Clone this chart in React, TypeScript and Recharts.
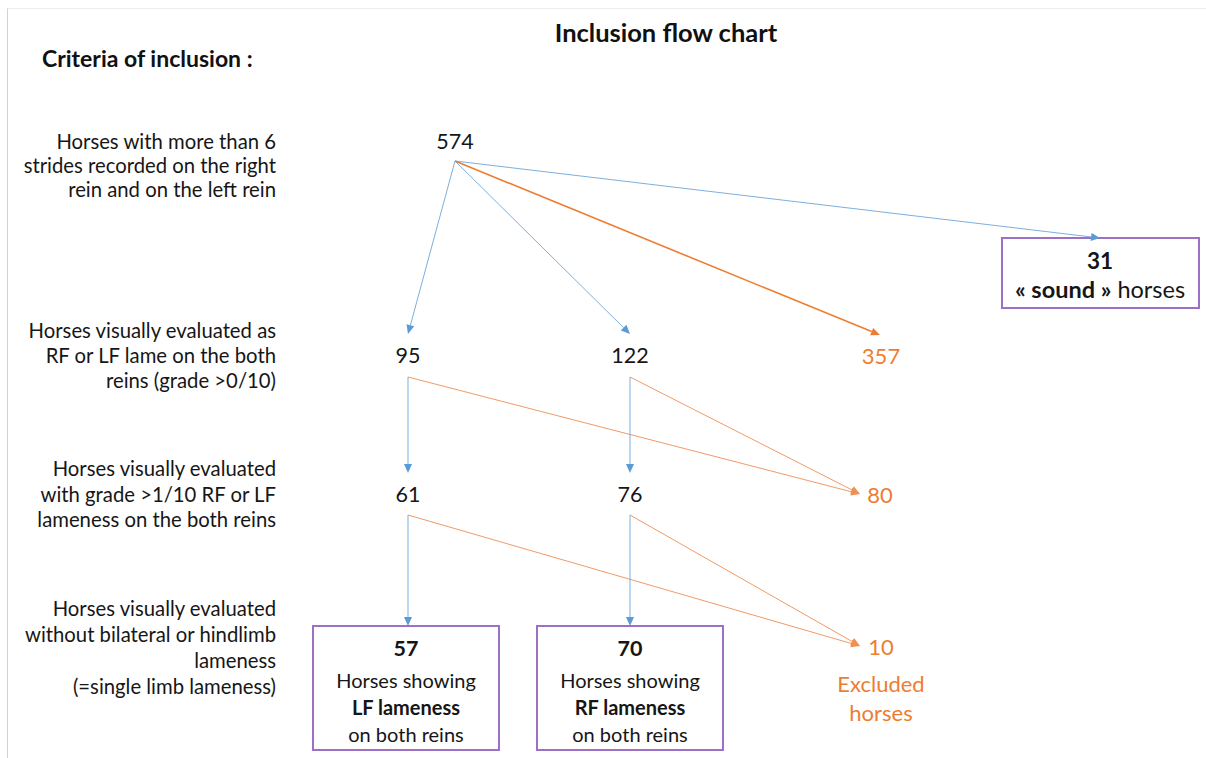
import React from 'react';
import {
  ScatterChart,
  Scatter,
  XAxis,
  YAxis,
  ReferenceLine,
  ReferenceArea,
} from 'recharts';

const W = 1206;
const H = 758;

const FONT = 'Lato, "Noto Sans", sans-serif';
const INK = '#161616';
const BLUE = '#5b9bd5';
const ORANGE = '#ed7d31';
const ORANGE_THIN = '#f08f54';
const PURPLE = '#9d6fc6';

// ---- data ----
const chartTitle = 'Inclusion flow chart';
const criteriaHeading = 'Criteria of inclusion :';

const criteria: string[][] = [
  ['Horses with more than 6', 'strides recorded on the right', 'rein and on the left rein'],
  ['Horses visually evaluated as', 'RF or LF lame on the both', 'reins (grade >0/10)'],
  ['Horses visually evaluated', 'with grade >1/10 RF or LF', 'lameness on the both reins'],
  ['Horses visually evaluated', 'without bilateral or hindlimb', 'lameness', '(=single limb lameness)'],
];

type Kind = 'count' | 'excluded' | 'box';
const nodeIds = ['all', 'lf0', 'rf0', 'exc0', 'sound', 'lf1', 'rf1', 'exc1', 'lf2', 'rf2', 'exc2'];
const nodeCounts = [574, 95, 122, 357, 31, 61, 76, 80, 57, 70, 10];
const nodeKinds: Kind[] = ['count', 'count', 'count', 'excluded', 'box', 'count', 'count', 'excluded', 'box', 'box', 'excluded'];

// caption lines under a count, each line is a list of [text, bold]
const nodeCaptions: Record<string, [string, boolean][][]> = {
  sound: [[['« sound »', true], [' horses', false]]],
  lf2: [[['Horses showing', false]], [['LF lameness', true]], [['on both reins', false]]],
  rf2: [[['Horses showing', false]], [['RF lameness', true]], [['on both reins', false]]],
  exc2: [[['Excluded', false]], [['horses', false]]],
};

type EdgeKind = 'kept' | 'dropMain' | 'drop';
const edges: [string, string, EdgeKind][] = [
  ['all', 'lf0', 'kept'],
  ['all', 'rf0', 'kept'],
  ['all', 'exc0', 'dropMain'],
  ['all', 'sound', 'kept'],
  ['lf0', 'lf1', 'kept'],
  ['lf0', 'exc1', 'drop'],
  ['rf0', 'rf1', 'kept'],
  ['rf0', 'exc1', 'drop'],
  ['lf1', 'lf2', 'kept'],
  ['lf1', 'exc2', 'drop'],
  ['rf1', 'rf2', 'kept'],
  ['rf1', 'exc2', 'drop'],
];

// ---- layout (plot units = pixels) ----
const nodePos: Record<string, [number, number]> = {
  all: [455, 141],
  lf0: [408, 355],
  rf0: [630, 355],
  exc0: [881, 355],
  sound: [1100, 260],
  lf1: [408, 494],
  rf1: [630, 494],
  exc1: [880, 494],
  lf2: [406, 648],
  rf2: [630, 648],
  exc2: [881, 646],
};
const outPoint: Record<string, [number, number]> = {
  all: [455, 161],
  lf0: [408, 377],
  rf0: [630, 377],
  lf1: [408, 515],
  rf1: [630, 515],
};
const inPoint: Record<string, [number, number]> = {
  lf0: [408, 334],
  rf0: [630, 334],
  exc0: [880, 335],
  sound: [1100, 238],
  lf1: [408, 473],
  rf1: [630, 473],
  exc1: [860, 494],
  lf2: [408, 626],
  rf2: [630, 626],
  exc2: [860, 646],
};
const boxRect: Record<string, [number, number, number, number]> = {
  sound: [1002, 1199, 238, 308],
  lf2: [313, 499, 626, 750],
  rf2: [537, 723, 626, 750],
};
const captionOffsets: Record<string, number[]> = {
  sound: [29],
  lf2: [32, 59, 86],
  rf2: [32, 59, 86],
  exc2: [37, 66],
};
const nodeFont: Record<string, [number, number]> = {
  // [count size, caption size]
  sound: [22.5, 23.5],
  lf2: [21.5, 20],
  rf2: [21.5, 20],
  exc2: [22, 22],
};
const criteriaRight = 276;
const criteriaTop = [141, 330, 468, 608];
const criteriaStep = [24, 25, 25.5, 26];

const edgeStyle: Record<EdgeKind, { color: string; width: number; opacity: number }> = {
  kept: { color: BLUE, width: 1, opacity: 0.8 },
  dropMain: { color: ORANGE, width: 1.6, opacity: 1 },
  drop: { color: ORANGE_THIN, width: 1, opacity: 0.9 },
};

const nodeData = nodeIds.map((id, i) => ({
  id,
  count: nodeCounts[i],
  kind: nodeKinds[i],
  x: nodePos[id][0],
  y: nodePos[id][1],
}));

const criteriaData = criteria.map((lines, i) => ({
  lines,
  step: criteriaStep[i],
  x: criteriaRight,
  y: criteriaTop[i],
}));

const headingData = [
  { text: chartTitle, x: 666, y: 32, anchor: 'middle', size: 25.5 },
  { text: criteriaHeading, x: 42, y: 58, anchor: 'start', size: 23 },
];

const arrowShape = (color: string, width: number, opacity: number) => (p: any) => {
  const { x1, y1, x2, y2 } = p;
  const dx = x2 - x1;
  const dy = y2 - y1;
  const len = Math.hypot(dx, dy) || 1;
  const ux = dx / len;
  const uy = dy / len;
  const hl = 9;
  const hw = 4;
  const bx = x2 - ux * hl;
  const by = y2 - uy * hl;
  return (
    <g>
      <line
        x1={x1}
        y1={y1}
        x2={bx}
        y2={by}
        stroke={color}
        strokeWidth={width}
        strokeOpacity={opacity}
      />
      <polygon
        points={`${x2},${y2} ${bx - uy * hw},${by + ux * hw} ${bx + uy * hw},${by - ux * hw}`}
        fill={color}
      />
    </g>
  );
};

const renderNode = (p: any) => {
  const { cx, cy, payload } = p;
  const color = payload.kind === 'excluded' ? ORANGE : INK;
  const caps = nodeCaptions[payload.id] || [];
  const offs = captionOffsets[payload.id] || [];
  const [countSize, capSize] = nodeFont[payload.id] || [21.5, 20];
  return (
    <g>
      <text
        x={cx}
        y={cy}
        textAnchor="middle"
        dominantBaseline="central"
        fontFamily={FONT}
        fontSize={payload.kind === 'excluded' ? 22 : countSize}
        fontWeight={payload.kind === 'box' ? 700 : 400}
        fill={color}
      >
        {payload.count}
      </text>
      {caps.map((line, i) => (
        <text
          key={i}
          x={cx}
          y={cy + offs[i]}
          textAnchor="middle"
          dominantBaseline="central"
          fontFamily={FONT}
          fontSize={capSize}
          fill={color}
        >
          {line.map(([t, b], j) => (
            <tspan key={j} fontWeight={b ? 700 : 400}>
              {t}
            </tspan>
          ))}
        </text>
      ))}
    </g>
  );
};

const renderCriteria = (p: any) => {
  const { cx, cy, payload } = p;
  return (
    <g>
      {payload.lines.map((t: string, i: number) => (
        <text
          key={i}
          x={cx}
          y={cy + i * payload.step}
          textAnchor="end"
          dominantBaseline="central"
          fontFamily={FONT}
          fontSize={20.3}
          fill={INK}
        >
          {t}
        </text>
      ))}
    </g>
  );
};

const renderHeading = (p: any) => {
  const { cx, cy, payload } = p;
  return (
    <text
      x={cx}
      y={cy}
      textAnchor={payload.anchor}
      dominantBaseline="central"
      fontFamily={FONT}
      fontSize={payload.size}
      fontWeight={700}
      fill="#111"
    >
      {payload.text}
    </text>
  );
};

export default function App() {
  return (
    <div style={{ position: 'absolute', left: 0, top: 0, width: W, height: H, background: '#fff' }}>
      <div
        style={{
          position: 'absolute',
          left: 7,
          top: 8,
          right: 0,
          bottom: 0,
          borderLeft: '1px solid #d2d2d2',
          borderTop: '1px solid #ededed',
          pointerEvents: 'none',
        }}
      />
      <ScatterChart width={W} height={H} margin={{ top: 0, right: 0, bottom: 0, left: 0 }}>
        <XAxis type="number" dataKey="x" domain={[0, W]} hide />
        <YAxis type="number" dataKey="y" domain={[0, H]} reversed hide />
        {Object.keys(boxRect).map((id) => (
          <ReferenceArea
            key={id}
            x1={boxRect[id][0]}
            x2={boxRect[id][1]}
            y1={boxRect[id][2]}
            y2={boxRect[id][3]}
            fill="none"
            stroke={PURPLE}
            strokeWidth={2}
            ifOverflow="visible"
          />
        ))}
        {edges.map(([from, to, kind]) => (
          <ReferenceLine
            key={from + to}
            segment={[
              { x: outPoint[from][0], y: outPoint[from][1] },
              { x: inPoint[to][0], y: inPoint[to][1] },
            ]}
            ifOverflow="visible"
            shape={arrowShape(edgeStyle[kind].color, edgeStyle[kind].width, edgeStyle[kind].opacity)}
          />
        ))}
        <Scatter data={headingData} shape={renderHeading} isAnimationActive={false} />
        <Scatter data={criteriaData} shape={renderCriteria} isAnimationActive={false} />
        <Scatter data={nodeData} shape={renderNode} isAnimationActive={false} />
      </ScatterChart>
    </div>
  );
}
